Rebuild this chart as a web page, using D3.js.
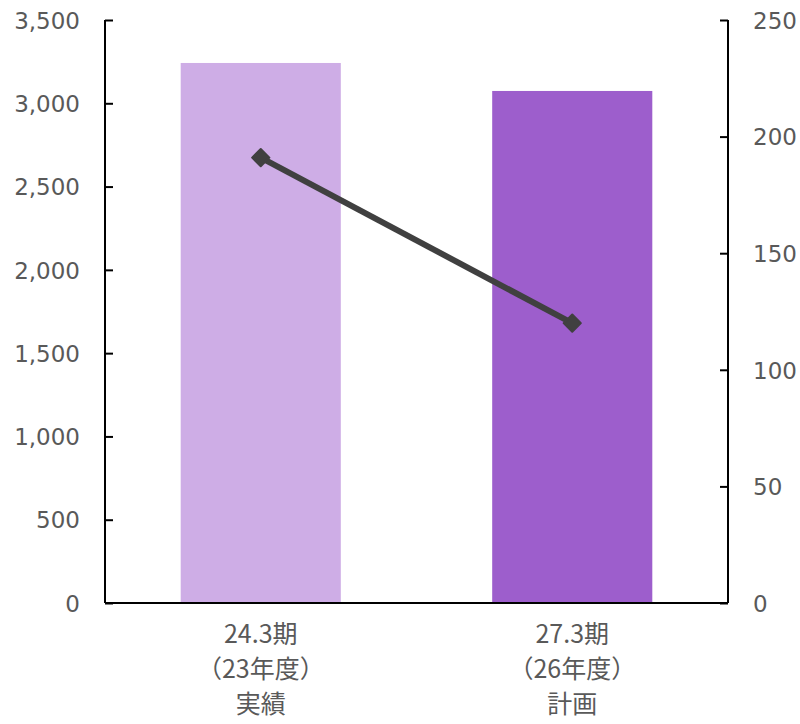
<!DOCTYPE html>
<html>
<head>
<meta charset="utf-8">
<script src="https://cdn.jsdelivr.net/npm/d3@7"></script>
<style>
  body { margin: 0; background: #fff; }
  svg text { fill: #595959; }
</style>
</head>
<body>
<script>
// chart values
var periods = ["24.3期", "27.3期"];
var years = ["（23年度）", "（26年度）"];
var kinds = ["実績", "計画"];
var barValues = [3242, 3074];
var lineValues = [191, 120];
var leftTicks = [0, 500, 1000, 1500, 2000, 2500, 3000, 3500];
var rightTicks = [0, 50, 100, 150, 200, 250];
var barColors = ["#ceade6", "#9d5ecc"];

var W = 800, H = 724,
  m = { t: 20, r: 72, b: 121, l: 105 },
  width = W - m.l - m.r,
  height = H - m.t - m.b;

var svg = d3.select("body").append("svg")
  .attr("width", W)
  .attr("height", H);

var g = svg.append("g")
  .attr("transform", "translate(" + m.l + "," + m.t + ")");

var x = d3.scaleBand().domain(periods).range([0, width])
  .paddingInner(0.486).paddingOuter(0.243);
var yL = d3.scaleLinear().domain([0, 3500]).range([height, 0]);
var yR = d3.scaleLinear().domain([0, 250]).range([height, 0]);

// bars
g.selectAll(".bar")
  .data(barValues)
  .enter().append("rect")
  .attr("class", "bar")
  .attr("x", function(d, i) { return x(periods[i]); })
  .attr("width", x.bandwidth())
  .attr("y", function(d) { return yL(d); })
  .attr("height", function(d) { return height - yL(d); })
  .style("fill", function(d, i) { return barColors[i]; });

// axes
var tickFont = "'DejaVu Sans', sans-serif";

var leftAxis = g.append("g")
  .call(d3.axisRight(yL).tickValues(leftTicks).tickSize(8).tickFormat(d3.format(",")));
leftAxis.select(".domain").attr("d", "M0,0V" + height);
leftAxis.selectAll("line").attr("stroke", "#000").attr("stroke-width", 2);
leftAxis.select(".domain").attr("stroke", "#000").attr("stroke-width", 2);
leftAxis.selectAll("text")
  .attr("x", -25)
  .attr("dy", "0.36em")
  .style("text-anchor", "end")
  .style("font-family", tickFont)
  .style("font-size", "23px")
  .style("fill", "#595959");

var rightAxis = g.append("g")
  .attr("transform", "translate(" + width + ",0)")
  .call(d3.axisLeft(yR).tickValues(rightTicks).tickSize(8));
rightAxis.select(".domain").attr("d", "M0,0V" + height);
rightAxis.selectAll("line").attr("stroke", "#000").attr("stroke-width", 2);
rightAxis.select(".domain").attr("stroke", "#000").attr("stroke-width", 2);
rightAxis.selectAll("text")
  .attr("x", 25)
  .attr("dy", "0.36em")
  .style("text-anchor", "start")
  .style("font-family", tickFont)
  .style("font-size", "23px")
  .style("fill", "#595959");

// bottom line
g.append("line")
  .attr("x1", 0).attr("x2", width)
  .attr("y1", height).attr("y2", height)
  .attr("stroke", "#000").attr("stroke-width", 2);

// category labels
var catFont = "'Noto Sans CJK JP', sans-serif";
var cats = g.selectAll(".cat")
  .data(periods)
  .enter().append("g")
  .attr("class", "cat")
  .attr("transform", function(d) {
    return "translate(" + (x(d) + x.bandwidth() / 2) + "," + height + ")";
  });
cats.append("text").attr("y", 31).text(function(d) { return d; });
cats.append("text").attr("y", 66).text(function(d, i) { return years[i]; });
cats.append("text").attr("y", 101).text(function(d, i) { return kinds[i]; });
cats.selectAll("text")
  .attr("dy", "0.35em")
  .style("text-anchor", "middle")
  .style("font-family", catFont)
  .style("font-size", "25px");

// line series
var line = d3.line()
  .x(function(d, i) { return x(periods[i]) + x.bandwidth() / 2; })
  .y(function(d) { return yR(d); });

g.append("path")
  .datum(lineValues)
  .attr("d", line)
  .attr("fill", "none")
  .attr("stroke", "#404040")
  .attr("stroke-width", 6);

g.selectAll(".pt")
  .data(lineValues)
  .enter().append("path")
  .attr("class", "pt")
  .attr("d", d3.symbol().type(d3.symbolDiamond2).size(190))
  .attr("transform", function(d, i) {
    return "translate(" + (x(periods[i]) + x.bandwidth() / 2) + "," + yR(d) + ")";
  })
  .attr("fill", "#404040")
  .attr("stroke", "#404040")
  .attr("stroke-width", 2)
  .attr("stroke-linejoin", "round");
</script>
</body>
</html>
